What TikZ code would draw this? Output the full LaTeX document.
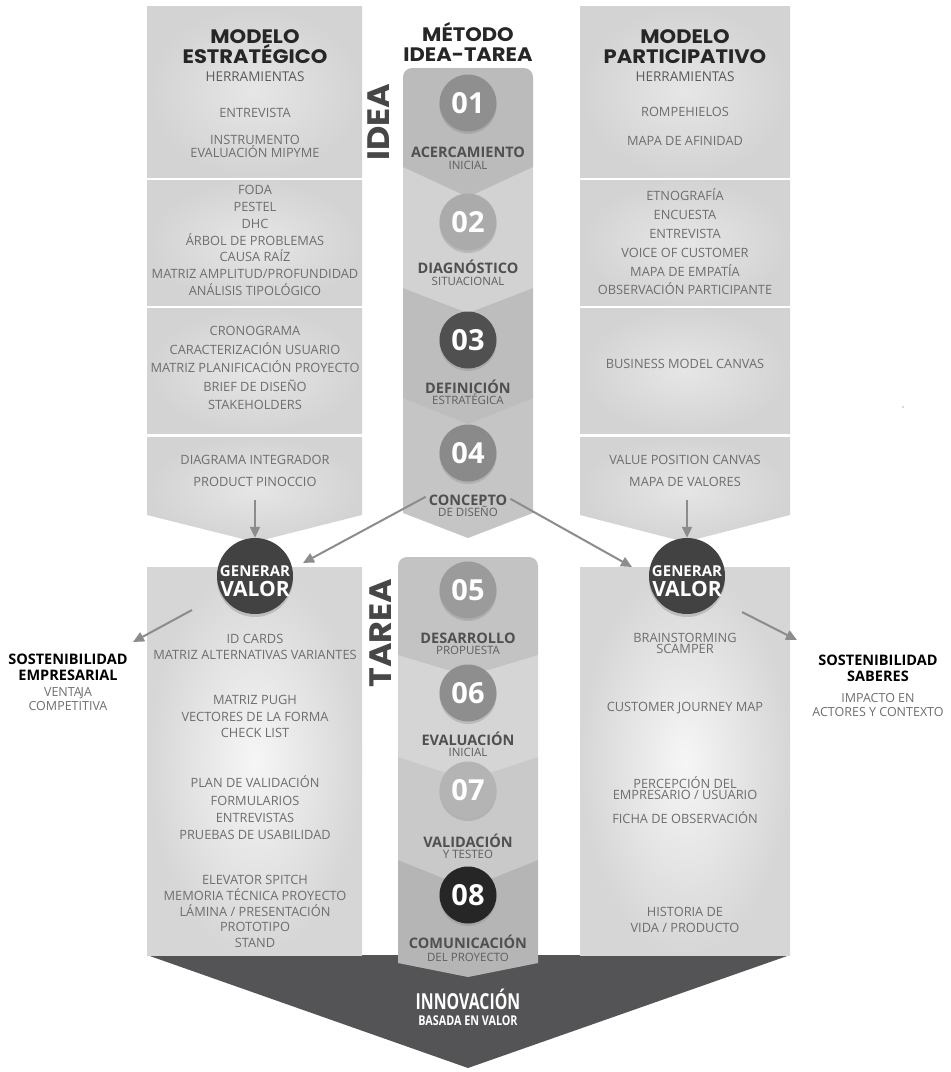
\documentclass[tikz,border=0pt]{standalone}
\usepackage{fontspec}
\setmainfont{Open Sans}
\newfontfamily\popw{Poppins}[FakeStretch=1.08]
\newfontfamily\osc{Open Sans}[FakeStretch=0.72]
\newfontfamily\oscb{Open Sans}[FakeStretch=0.8]
\usetikzlibrary{shadows,arrows.meta}
\definecolor{itemgray}{HTML}{6E6E6E}
\definecolor{headgray}{HTML}{5A5A5A}
\definecolor{titlegray}{HTML}{262626}
\definecolor{arrgray}{HTML}{8C8C8C}
\definecolor{darkcirc}{HTML}{424242}
\definecolor{bigarrow}{HTML}{545456}
\definecolor{steptitle}{HTML}{505050}
\definecolor{stepsub}{HTML}{5E5E5E}
\definecolor{topin}{HTML}{E6E6E6}
\definecolor{topout}{HTML}{D3D3D3}
\definecolor{botin}{HTML}{F6F6F6}
\definecolor{botout}{HTML}{D6D6D6}
\definecolor{secA}{HTML}{BBBBBB}
\definecolor{secB}{HTML}{D2D2D2}
\definecolor{secC}{HTML}{BDBDBD}
\definecolor{secD}{HTML}{C5C5C5}
\definecolor{secE}{HTML}{C3C3C3}
\definecolor{secF}{HTML}{D5D5D5}
\definecolor{secG}{HTML}{C9C9C9}
\definecolor{secH}{HTML}{B5B5B5}
\definecolor{cA}{HTML}{8F8F8F}
\definecolor{cB}{HTML}{ABABAB}
\definecolor{cC}{HTML}{505050}
\definecolor{cD}{HTML}{8A8A8A}
\definecolor{cE}{HTML}{9B9B9B}
\definecolor{cF}{HTML}{8E8E8E}
\definecolor{cG}{HTML}{B4B4B4}
\definecolor{cH}{HTML}{262626}
\tikzset{
  item/.style={font=\fontsize{12.8}{16.8}\selectfont, text=itemgray, align=center, inner sep=0pt},
  head/.style={font=\fontsize{13.5}{14}\selectfont, text=headgray, inner sep=0pt},
  mtitle/.style={font=\popw\bfseries\fontsize{19.5}{20}\selectfont, text=titlegray, align=center, inner sep=0pt},
  vert/.style={font=\popw\bfseries\fontsize{31}{31}\selectfont, text=titlegray!85, rotate=90, inner sep=0pt},
  topblk/.style={inner color=topin, outer color=topout},
  botblk/.style={inner color=botin, outer color=botout},
  numc/.style={circle, minimum size=57pt, inner sep=0pt, text=white, font=\bfseries\fontsize{29}{29}\selectfont, drop shadow={shadow xshift=0pt, shadow yshift=-2.5pt, opacity=0.3}},
  stitle/.style={font=\bfseries\fontsize{14.5}{14.5}\selectfont, text=steptitle, inner sep=0pt, anchor=base},
  ssub/.style={font=\fontsize{11.5}{11.5}\selectfont, text=stepsub, inner sep=0pt, anchor=base},
  gv/.style={circle, fill=darkcirc, minimum size=76pt, inner sep=0pt, drop shadow={shadow xshift=0pt, shadow yshift=-3pt, opacity=0.35}},
  gvtop/.style={font=\bfseries\fontsize{15}{15}\selectfont, text=white, inner sep=0pt},
  gvbot/.style={font=\bfseries\fontsize{21}{21}\selectfont, text=white, inner sep=0pt},
  arr/.style={draw=arrgray, line width=2pt, -{Triangle[length=11pt,width=10pt]}},
  sos/.style={font=\bfseries\fontsize{14.5}{16}\selectfont, text=black, align=center, inner sep=0pt},
  sossub/.style={font=\fontsize{12.5}{13.5}\selectfont, text=itemgray, align=center, inner sep=0pt}
}
\begin{document}
\begin{tikzpicture}[x=1pt,y=-1pt]
\useasboundingbox (0,0) rectangle (951,1072);
% ---------- big bottom arrow
\fill[bigarrow] (147,955) -- (790,955) -- (468,1068) -- cycle;
\node[font=\osc\bfseries\fontsize{22}{22}\selectfont, text=white, inner sep=0pt, anchor=base] (innov) at (468,1009.5) {INNOVACIÓN};
\node[font=\oscb\bfseries\fontsize{13.5}{13.5}\selectfont, text=white, inner sep=0pt, anchor=base] (basada) at (468,1025.5) {BASADA EN VALOR};
% ---------- left column blocks
\shade[topblk] (147,6) rectangle (362,177);
\shade[topblk] (147,180) rectangle (362,305);
\shade[topblk] (147,308) rectangle (362,433);
\shade[topblk] (147,437) -- (362,437) -- (362,515) -- (255,542) -- (147,515) -- cycle;
\shade[botblk] (147,567) rectangle (362,955);
% ---------- right column blocks
\shade[topblk] (580,6) rectangle (790,177);
\shade[topblk] (580,180) rectangle (790,305);
\shade[topblk] (580,308) rectangle (790,433);
\shade[topblk] (580,437) -- (790,437) -- (790,515) -- (685,542) -- (580,515) -- cycle;
\shade[botblk] (580,567) rectangle (790,955);
% ---------- center column IDEA
\fill[secD] (403,398) -- (533,398) -- (533,513) -- (468,538) -- (403,513) -- cycle;
\fill[secC] (403,288) -- (533,288) -- (533,398) -- (468,424) -- (403,398) -- cycle;
\fill[secB] (403,167) -- (533,167) -- (533,288) -- (468,313) -- (403,288) -- cycle;
\fill[secA] (468,197) -- (403,167) [rounded corners=9pt] -- (403,68) -- (533,68) [sharp corners] -- (533,167) -- cycle;
% ---------- center column TAREA
\fill[secH] (398,860) -- (538,860) -- (538,963) -- (468,977) -- (398,963) -- cycle;
\fill[secG] (398,757) -- (538,757) -- (538,860) -- (468,888) -- (398,860) -- cycle;
\fill[secF] (398,655) -- (538,655) -- (538,757) -- (468,780) -- (398,757) -- cycle;
\fill[secE] (468,676) -- (398,655) [rounded corners=9pt] -- (398,557) -- (538,557) [sharp corners] -- (538,655) -- cycle;
% ---------- headings
\node[mtitle] (metodo) at (468,42) {MÉTODO\\IDEA-TAREA};
\node[vert] (idea) at (379,122) {IDEA};
\node[vert] (tarea) at (381,633) {TAREA};
% ---------- step circles and labels
\node[numc, fill=cA] (n1) at (468,103) {01};
\node[stitle] (t1) at (468,157) {ACERCAMIENTO};
\node[ssub] (u1) at (468,169.5) {INICIAL};
\node[numc, fill=cB] (n2) at (468,222) {02};
\node[stitle] (t2) at (468,273) {DIAGNÓSTICO};
\node[ssub] (u2) at (468,285.5) {SITUACIONAL};
\node[numc, fill=cC] (n3) at (468,340) {03};
\node[stitle] (t3) at (468,393) {DEFINICIÓN};
\node[ssub] (u3) at (468,404.5) {ESTRATÉGICA};
\node[numc, fill=cD] (n4) at (468,453) {04};
\node[stitle] (t4) at (468,505) {CONCEPTO};
\node[ssub] (u4) at (468,516.5) {DE DISEÑO};
\node[numc, fill=cE] (n5) at (468,590) {05};
\node[stitle] (t5) at (468,643) {DESARROLLO};
\node[ssub] (u5) at (468,654.5) {PROPUESTA};
\node[numc, fill=cF] (n6) at (468,693) {06};
\node[stitle] (t6) at (468,745) {EVALUACIÓN};
\node[ssub] (u6) at (468,756.5) {INICIAL};
\node[numc, fill=cG] (n7) at (468,790) {07};
\node[stitle] (t7) at (468,847) {VALIDACIÓN};
\node[ssub] (u7) at (468,858.5) {Y TESTEO};
\node[numc, fill=cH] (n8) at (468,895) {08};
\node[stitle] (t8) at (468,948) {COMUNICACIÓN};
\node[ssub] (u8) at (468,961) {DEL PROYECTO};
% ---------- left texts
\node[mtitle] (lt) at (255,47) {MODELO\\ESTRATÉGICO};
\node[head] (lh) at (255,77) {HERRAMIENTAS};
\node[item] (l1) at (255,113) {ENTREVISTA};
\node[item, font=\fontsize{12.8}{12.8}\selectfont] (l2) at (255,146.5) {INSTRUMENTO\\EVALUACIÓN MIPYME};
\node[item] (l3) at (255,240.5) {FODA\\PESTEL\\DHC\\ÁRBOL DE PROBLEMAS\\CAUSA RAÍZ\\MATRIZ AMPLITUD/PROFUNDIDAD\\ANÁLISIS TIPOLÓGICO};
\node[item, font=\fontsize{12.8}{18.5}\selectfont] (l4) at (255,368) {CRONOGRAMA\\CARACTERIZACIÓN USUARIO\\MATRIZ PLANIFICACIÓN PROYECTO\\BRIEF DE DISEÑO\\STAKEHOLDERS};
\node[item, font=\fontsize{12.8}{22}\selectfont] (l5) at (255,471) {DIAGRAMA INTEGRADOR\\PRODUCT PINOCCIO};
\node[item, font=\fontsize{12.8}{16}\selectfont] (l6) at (255,647) {ID CARDS\\MATRIZ ALTERNATIVAS VARIANTES};
\node[item, font=\fontsize{12.8}{16.5}\selectfont] (l7) at (255,716.5) {MATRIZ PUGH\\VECTORES DE LA FORMA\\CHECK LIST};
\node[item, font=\fontsize{12.8}{17.3}\selectfont] (l8) at (255,808) {PLAN DE VALIDACIÓN\\FORMULARIOS\\ENTREVISTAS\\PRUEBAS DE USABILIDAD};
\node[item, font=\fontsize{12.8}{15.8}\selectfont] (l9) at (255,911.5) {ELEVATOR SPITCH\\MEMORIA TÉCNICA PROYECTO\\LÁMINA / PRESENTACIÓN\\PROTOTIPO\\STAND};
% ---------- right texts
\node[mtitle] (rt) at (685,47) {MODELO\\PARTICIPATIVO};
\node[head] (rh) at (685,77) {HERRAMIENTAS};
\node[item] (r1) at (685,112) {ROMPEHIELOS};
\node[item] (r2) at (685,141) {MAPA DE AFINIDAD};
\node[item, font=\fontsize{12.8}{18.8}\selectfont] (r3) at (685,242) {ETNOGRAFÍA\\ENCUESTA\\ENTREVISTA\\VOICE OF CUSTOMER\\MAPA DE EMPATÍA\\OBSERVACIÓN PARTICIPANTE};
\node[item] (r4) at (685,364) {BUSINESS MODEL CANVAS};
\node[item, font=\fontsize{12.8}{22}\selectfont] (r5) at (685,471) {VALUE POSITION CANVAS\\MAPA DE VALORES};
\node[item, font=\fontsize{12.8}{11.5}\selectfont] (r6) at (685,643.5) {BRAINSTORMING\\SCAMPER};
\node[item] (r7) at (685,708) {CUSTOMER JOURNEY MAP};
\node[item, font=\fontsize{12.8}{11.8}\selectfont] (r8) at (685,788) {PERCEPCIÓN DEL\\EMPRESARIO / USUARIO};
\node[item] (r9) at (685,818) {FICHA DE OBSERVACIÓN};
\node[item, font=\fontsize{12.8}{16}\selectfont] (r10) at (685,920) {HISTORIA DE\\VIDA / PRODUCTO};
% ---------- generar valor circles
\node[gv] (gvL) at (255,576) {};
\node[gvtop] (gvLa) at (255,571) {GENERAR};
\node[gvbot] (gvLb) at (255,589) {VALOR};
\node[gv] (gvR) at (687,576) {};
\node[gvtop] (gvRa) at (687,571) {GENERAR};
\node[gvbot] (gvRb) at (687,589) {VALOR};
% ---------- sustainability labels
\node[sos] (sosL) at (68,667.5) {SOSTENIBILIDAD\\EMPRESARIAL};
\node[sossub] (venL) at (68,699) {VENTA\kern-1.2pt JA\\COMPETITIVA};
\node[sos] (sosR) at (878,668.5) {SOSTENIBILIDAD\\SABERES};
\node[sossub] (impR) at (878,705) {IMPACTO EN\\ACTORES Y CONTEXTO};
% ---------- connector coordinates
\coordinate (aL0) at (255,500);
\coordinate (aR0) at (687,500);
\coordinate (dL1) at (303,563);
\coordinate (dR1) at (632,567);
\coordinate (oL0) at (192,610);
\coordinate (oL1) at (133,642);
\coordinate (oR0) at (742,612);
\coordinate (oR1) at (797,640);
% ---------- connectors
\draw[arr] (aL0) -- (gvL.north);
\draw[arr] (aR0) -- (gvR.north);
\draw[arr] (t4.west) ++(-3,-3) coordinate (dL0) (dL0) -- (dL1);
\draw[arr] (t4.east) ++(3,-1) coordinate (dR0) (dR0) -- (dR1);
\draw[arr] (oL0) -- (oL1);
\draw[arr] (oR0) -- (oR1);
% stray dot
\fill[gray!60] (903,407) circle (0.8);
\end{tikzpicture}
\end{document}
